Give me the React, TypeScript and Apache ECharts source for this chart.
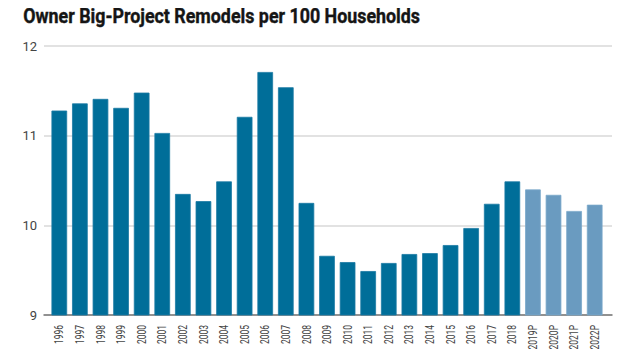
import React, { useEffect, useRef } from "react";
import * as echarts from "echarts";

const categories = ["1996","1997","1998","1999","2000","2001","2002","2003","2004","2005","2006","2007","2008","2009","2010","2011","2012","2013","2014","2015","2016","2017","2018","2019P","2020P","2021P","2022P"];
const values = [11.28,11.36,11.41,11.31,11.48,11.03,10.35,10.27,10.49,11.21,11.71,11.54,10.25,9.66,9.59,9.49,9.58,9.68,9.69,9.78,9.97,10.24,10.49,10.40,10.34,10.16,10.23];
const projected = [false,false,false,false,false,false,false,false,false,false,false,false,false,false,false,false,false,false,false,false,false,false,false,true,true,true,true];
const yTicks = { min: 9, max: 12, interval: 1 };
const title = "Owner Big-Project Remodels per 100 Households";

const FONT = "Roboto, 'Noto Sans', sans-serif";

export default function App() {
  const ref = useRef<HTMLDivElement>(null);
  useEffect(() => {
    if (!ref.current) return;
    const chart = echarts.init(ref.current, null, { renderer: "svg" });
    chart.setOption({
      animation: false,
      backgroundColor: "#ffffff",
      graphic: [
        {
          type: "text",
          left: 23,
          top: 5,
          scaleX: 0.85,
          style: {
            text: title,
            font: "bold 21px " + FONT,
            fill: "#151515",
            stroke: "#151515",
            lineWidth: 0.4,
          },
        },
      ],
      grid: [
        { left: 44, right: 28, top: 46, bottom: 45, containLabel: false },
        { left: 49, right: 35, top: 46, bottom: 45, containLabel: false },
      ],
      xAxis: [
        {
          type: "category",
          gridIndex: 0,
          data: [""],
          axisLine: { show: true, lineStyle: { color: "#777777", width: 1.5 } },
          axisTick: { show: false },
          axisLabel: { show: false },
        },
        {
          type: "category",
          gridIndex: 1,
          data: categories,
          axisLine: { show: false },
          axisTick: { show: false },
          axisLabel: { show: false },
        },
      ],
      yAxis: [
        {
          type: "value",
          gridIndex: 0,
          min: yTicks.min,
          max: yTicks.max,
          interval: yTicks.interval,
          axisLine: { show: false },
          axisTick: { show: false },
          axisLabel: { margin: 7, fontFamily: FONT, fontSize: 13, color: "#444444" },
          splitLine: { lineStyle: { color: "#d9d9d9", width: 1.5 } },
        },
        {
          type: "value",
          gridIndex: 1,
          min: yTicks.min,
          max: yTicks.max,
          interval: yTicks.interval,
          show: false,
          splitLine: { show: false },
        },
      ],
      series: [
        {
          type: "bar",
          xAxisIndex: 1,
          yAxisIndex: 1,
          barCategoryGap: "24%",
          data: values.map((v, i) => ({
            value: v,
            itemStyle: {
              color: projected[i] ? "#6a9bc0" : "#006e99",
              borderColor: projected[i] ? "#7aa8ca" : "#1a7aa3",
              borderWidth: 0.8,
            },
          })),
        },
        {
          type: "custom",
          xAxisIndex: 1,
          yAxisIndex: 1,
          clip: false,
          silent: true,
          data: categories.map((c, i) => [i, yTicks.min]),
          renderItem: (params: any, api: any) => {
            const p = api.coord([api.value(0), api.value(1)]);
            return {
              type: "text",
              x: p[0],
              y: p[1] + 10,
              rotation: Math.PI / 2,
              scaleX: 0.68,
              style: {
                text: categories[params.dataIndex],
                font: "12.5px " + FONT,
                fill: "#444444",
                align: "right",
                verticalAlign: "middle",
              },
            };
          },
        },
      ],
    });
    return () => chart.dispose();
  }, []);
  return <div ref={ref} style={{ width: 640, height: 360, margin: -8 }} />;
}
